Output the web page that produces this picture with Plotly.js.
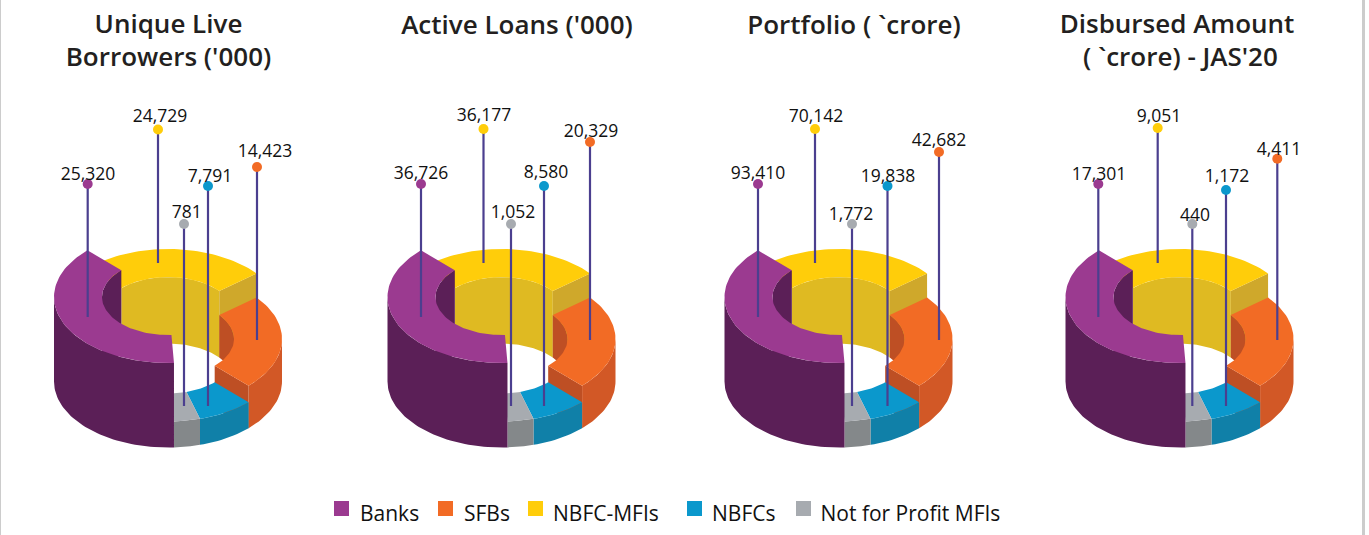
<!DOCTYPE html>
<html><head><meta charset="utf-8">
<script src="https://cdn.plot.ly/plotly-3.0.1.min.js"></script>
<style>html,body{margin:0;padding:0;background:#fff;overflow:hidden}#c{width:1369px;height:535px}</style>
</head><body><div id="c"></div>
<script>
// ---- data ----
const categories = ['Banks','SFBs','NBFC-MFIs','NBFCs','Not for Profit MFIs'];
const panelTitles = ["Unique Live<br>Borrowers ('000)","Active Loans ('000)","Portfolio ( `crore)","Disbursed Amount<br> ( `crore) - JAS'20"];
const banks    = [25320,36726,93410,17301];
const sfbs     = [14423,20329,42682,4411];
const nbfcMfis = [24729,36177,70142,9051];
const nbfcs    = [7791,8580,19838,1172];
const notProfit= [781,1052,1772,440];
const seriesValues = [banks,sfbs,nbfcMfis,nbfcs,notProfit];
// illustrated ring: same sweep for every panel (degrees)
const sweep = {banks:138, nbfcMfis:96, sfbs:84, nbfcs:28.7, notProfit:13.3};
const blockHeight = {banks:84.5, nbfcMfis:66.5, sfbs:42.5, nbfcs:26, notProfit:26};

// ---- layout and style ----
const colors = ['#9B3A90','#F26B25','#FFCD0A','#0B98CC','#A7ABB0'];
const sideColors = {banks:'#5B1F57',sfbs:'#D25826',nbfcs:'#1080A8',notProfit:'#84888A'};
const innerColors = {banks:'#5B1F57',sfbs:'#BE4F24',nbfcMfis:'#DFBA22'};
const cutColors = {sfbs:'#BE4F24',nbfcMfis:'#CFA82B'};
const panelCx = [168,501.5,838.5,1179.5];
const titleCx = [168.5,517,854,1177];
const titleY = [43,27,27,43];
const baseY = 381.5, R = 114, RY = 66, r = 66, ry = 38, START = 177;
const dotX = [[87.7,257,158,208,184],[421,590,483.5,544,511],[758,939,815,887.5,852],[1098.3,1277.3,1157.7,1226,1192.3]];
const dotY = [[184,167,129.5,186,224],[184,142,129,186,224],[184,152,129,186,224],[184,158.7,128,190,224]];
const lineEnd = [317,340,263,406,406];
const labX = [[88,265,160,210,186.7],[421,591,484,546,513],[758,939,816,888,851],[1099,1279,1159,1227,1195]];
const labY = [[175.5,152.5,117.5,177.5,213.5],[174.5,132.5,116.5,173.5,213.5],[174.5,141.5,117.5,177.5,215.5],[175.5,150.5,117.5,177.5,216.5]];
const legendX = [341.5,445.5,535.5,694.5,803.5];
const legendTextX = [360,464,553,712,820.5];

const rad = d => d*Math.PI/180;
function arc(cx,cy,rx,ryy,a,b){const n=Math.max(8,Math.ceil(Math.abs(b-a)/2)),xs=[],ys=[];
  for(let i=0;i<=n;i++){const t=rad(a+(b-a)*i/n);xs.push(cx+rx*Math.sin(t));ys.push(cy-ryy*Math.cos(t));}return [xs,ys];}
const traces=[];
function poly(parts,color){const x=[],y=[];parts.forEach(p=>{x.push(...p[0]);y.push(...p[1]);});x.push(x[0]);y.push(y[0]);
  traces.push({type:'scatter',mode:'lines',x,y,fill:'toself',fillcolor:color,line:{width:0,color:color},hoverinfo:'skip',showlegend:false});}

panelCx.forEach(cx=>{
  const b0=START,b1=b0+sweep.banks,b2=b1+sweep.nbfcMfis,b3=b2+sweep.sfbs,b4=b3+sweep.nbfcs,b5=b4+sweep.notProfit;
  const top=k=>baseY-blockHeight[k];
  const ring=(k,a,b,c)=>poly([arc(cx,top(k),R,RY,a,b),arc(cx,top(k),r,ry,b,a)],c);
  const side=(k,a,b,c)=>poly([arc(cx,top(k),R,RY,a,b),arc(cx,baseY,R,RY,b,a)],c);
  const wall=(k,a,b,c)=>poly([arc(cx,top(k),r,ry,a,b),arc(cx,baseY,r,ry,b,a)],c);
  const cut=(k,a,c)=>poly([arc(cx,top(k),r,ry,a,a),arc(cx,top(k),R,RY,a,a),arc(cx,baseY,R,RY,a,a),arc(cx,baseY,r,ry,a,a)],c);
  wall('nbfcMfis',b1,b2,innerColors.nbfcMfis);
  cut('nbfcMfis',b2,cutColors.nbfcMfis);
  ring('nbfcMfis',b1,b2,colors[2]);
  wall('sfbs',b2,450,innerColors.sfbs);
  cut('sfbs',b3,cutColors.sfbs);
  side('sfbs',450,b3,sideColors.sfbs);
  ring('sfbs',b2,b3,colors[1]);
  side('nbfcs',b3,b4,sideColors.nbfcs);
  ring('nbfcs',b3,b4,colors[3]);
  side('notProfit',b4,b5,sideColors.notProfit);
  ring('notProfit',b4,b5,colors[4]);
  wall('banks',270,b1,innerColors.banks);
  side('banks',b0-360,270-360,sideColors.banks);
  ring('banks',b0,b1,colors[0]);
});

const fmt = v => v.toLocaleString('en-US');
panelCx.forEach((_,p)=>{
  categories.forEach((c,i)=>{
    traces.push({type:'scatter',mode:'lines',x:[dotX[p][i],dotX[p][i]],y:[dotY[p][i],lineEnd[i]],
      line:{color:'#4B3F8F',width:2.2},hoverinfo:'skip',showlegend:false});
  });
  categories.forEach((c,i)=>{
    traces.push({type:'scatter',mode:'markers',x:[dotX[p][i]],y:[dotY[p][i]],
      marker:{size:10,color:colors[i]},hoverinfo:'skip',showlegend:false});
  });
  traces.push({type:'scatter',mode:'text',x:labX[p],y:labY[p],
    text:seriesValues.map(s=>fmt(s[p])),textposition:'middle center',
    textfont:{family:'Open Sans',size:17.5,color:'#111111'},hoverinfo:'skip',showlegend:false,cliponaxis:false});
  traces.push({type:'scatter',mode:'text',x:[titleCx[p]],y:[titleY[p]],
    text:[panelTitles[p]],textposition:'middle center',
    textfont:{family:'Open Sans',size:26,color:'#231F20',weight:600},hoverinfo:'skip',showlegend:false});
});

categories.forEach((c,i)=>{
  traces.push({type:'scatter',mode:'markers',x:[legendX[i]],y:[508.5],
    marker:{symbol:'square',size:15,color:colors[i]},hoverinfo:'skip',showlegend:false});
  traces.push({type:'scatter',mode:'text',x:[legendTextX[i]],y:[516],text:[c],textposition:'middle right',
    textfont:{family:'Open Sans',size:21,color:'#111111'},hoverinfo:'skip',showlegend:false});
});

const layout={width:1369,height:535,margin:{l:0,r:0,t:0,b:0},paper_bgcolor:'#fff',plot_bgcolor:'#fff',
  xaxis:{range:[0,1369],visible:false,fixedrange:true},
  yaxis:{range:[535,0],visible:false,fixedrange:true},
  showlegend:false,
  shapes:[
    {type:'rect',xref:'paper',yref:'paper',x0:1362/1369,x1:1365/1369,y0:0,y1:1,fillcolor:'#CCCCCC',line:{width:0}},
    {type:'rect',xref:'paper',yref:'paper',x0:0,x1:1/1369,y0:0,y1:1,fillcolor:'#CCCCCC',line:{width:0}}]};
Plotly.newPlot('c',traces,layout,{displayModeBar:false,staticPlot:true});
</script></body></html>
